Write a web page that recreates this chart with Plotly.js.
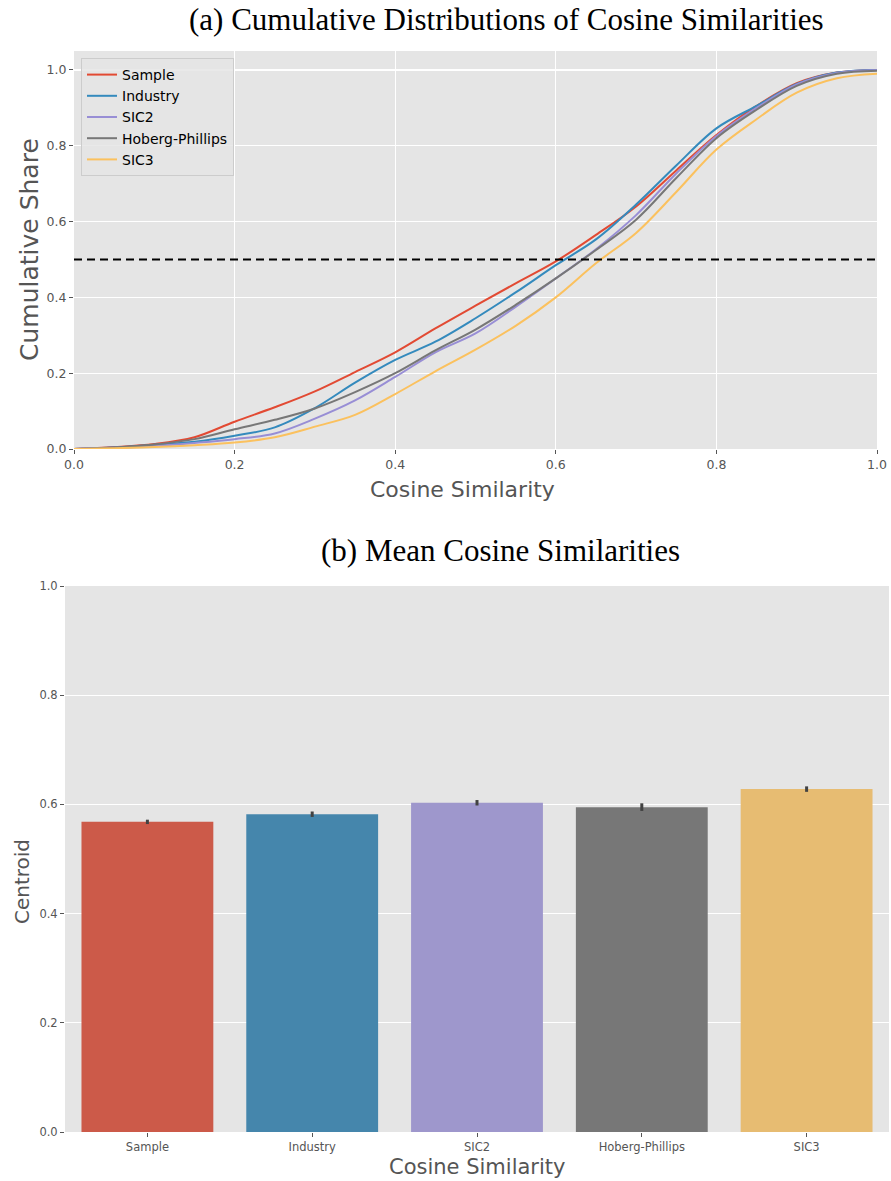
<!DOCTYPE html>
<html>
<head>
<meta charset="utf-8">
<script src="https://cdn.plot.ly/plotly-3.0.1.min.js"></script>
<style>html,body{margin:0;padding:0;background:#fff;}#chart{width:891px;height:1181px;}</style>
</head>
<body>
<div id="chart"></div>
<script>
// ---------- Data ----------
const seriesNames = ["Sample", "Industry", "SIC2", "Hoberg-Phillips", "SIC3"];
const cdfX = [0, 0.05, 0.1, 0.15, 0.2, 0.25, 0.3, 0.35, 0.4, 0.45, 0.5, 0.55, 0.6, 0.65, 0.7, 0.75, 0.8, 0.85, 0.9, 0.95, 1.0];
const cdfSample   = [0, 0.005, 0.013, 0.031, 0.072, 0.110, 0.152, 0.203, 0.255, 0.318, 0.378, 0.437, 0.495, 0.565, 0.640, 0.735, 0.828, 0.905, 0.965, 0.993, 1.0];
const cdfIndustry = [0, 0.004, 0.011, 0.019, 0.035, 0.057, 0.108, 0.175, 0.235, 0.283, 0.345, 0.413, 0.485, 0.553, 0.645, 0.748, 0.846, 0.905, 0.963, 0.993, 1.0];
const cdfSIC2     = [0, 0.003, 0.008, 0.016, 0.026, 0.041, 0.080, 0.128, 0.190, 0.255, 0.305, 0.375, 0.450, 0.527, 0.617, 0.727, 0.826, 0.900, 0.962, 0.992, 1.0];
const cdfHP       = [0, 0.004, 0.012, 0.026, 0.052, 0.077, 0.107, 0.150, 0.200, 0.260, 0.315, 0.380, 0.450, 0.525, 0.605, 0.715, 0.820, 0.895, 0.958, 0.990, 0.998];
const cdfSIC3     = [0, 0.002, 0.005, 0.010, 0.017, 0.031, 0.059, 0.090, 0.145, 0.205, 0.262, 0.325, 0.400, 0.490, 0.570, 0.678, 0.790, 0.870, 0.940, 0.978, 0.990];
const medianLevel = 0.5;

const barCategories = ["Sample", "Industry", "SIC2", "Hoberg-Phillips", "SIC3"];
const barMeans = [0.568, 0.582, 0.603, 0.595, 0.628];
const barErrors = [0.004, 0.005, 0.005, 0.007, 0.005];

const lineColors = ["#E24A33", "#348ABD", "#988ED5", "#777777", "#FBC15E"];
const barColors = ["#CC5A49", "#4586AC", "#9E97CC", "#777777", "#E7BC72"];

// ---------- Helpers ----------
const W = 891, H = 1181;
const px = x => x / W;
const py = y => 1 - y / H;

const cdfSeries = [cdfSample, cdfIndustry, cdfSIC2, cdfHP, cdfSIC3];
const traces = cdfSeries.map((ys, i) => ({
  type: "scatter", mode: "lines", x: cdfX, y: ys, name: seriesNames[i],
  line: {color: lineColors[i], width: 2, shape: "spline", smoothing: 1.0},
  xaxis: "x", yaxis: "y", showlegend: true
}));

traces.push({
  type: "bar", x: barCategories, y: barMeans,
  marker: {color: barColors, line: {width: 0}},
  error_y: {type: "data", array: barErrors, visible: true, color: "#424242", thickness: 3, width: 0},
  width: 0.8, xaxis: "x2", yaxis: "y2", showlegend: false
});

const tickFont = {family: "DejaVu Sans, sans-serif", size: 12.5, color: "#555555"};
const axisCommon = {
  showgrid: true, gridcolor: "#FFFFFF", gridwidth: 1.3, zeroline: false,
  showline: false, ticks: "outside", ticklen: 4, tickwidth: 1, tickcolor: "#555555",
  tickfont: tickFont, automargin: false, fixedrange: true
};

const layout = {
  width: W, height: H,
  margin: {l: 0, r: 0, t: 0, b: 0},
  paper_bgcolor: "#FFFFFF", plot_bgcolor: "#E5E5E5",
  showlegend: true,
  xaxis: Object.assign({}, axisCommon, {domain: [px(74), px(877)], range: [0, 1], dtick: 0.2, tick0: 0, tickformat: ".1f", anchor: "y"}),
  yaxis: Object.assign({}, axisCommon, {domain: [py(449), py(51)], range: [0, 1.05], dtick: 0.2, tick0: 0, tickformat: ".1f", anchor: "x"}),
  xaxis2: Object.assign({}, axisCommon, {domain: [px(65), px(889)], range: [-0.5, 4.5], showgrid: false, anchor: "y2", tickfont: Object.assign({}, tickFont, {size: 11.5})}),
  yaxis2: Object.assign({}, axisCommon, {domain: [py(1132), py(586)], range: [0, 1], dtick: 0.2, tick0: 0, tickformat: ".1f", anchor: "x2", tickfont: Object.assign({}, tickFont, {size: 11.5})}),
  legend: {
    x: px(81), y: py(58), xanchor: "left", yanchor: "top",
    bgcolor: "rgba(229,229,229,0.85)", bordercolor: "#CCCCCC", borderwidth: 1,
    font: {family: "DejaVu Sans, sans-serif", size: 14, color: "#000000"},
    tracegroupgap: 0
  },
  shapes: [{
    type: "line", xref: "x domain", yref: "y", x0: 0, x1: 1, y0: medianLevel, y1: medianLevel,
    line: {color: "#000000", width: 2, dash: "8px,5px"}
  }],
  annotations: [
    {text: "(a) Cumulative Distributions of Cosine Similarities", xref: "paper", yref: "paper", x: px(506), y: py(19), xanchor: "center", yanchor: "middle", showarrow: false,
     font: {family: "Liberation Serif, serif", size: 31, color: "#000000"}},
    {text: "(b) Mean Cosine Similarities", xref: "paper", yref: "paper", x: px(500), y: py(550), xanchor: "center", yanchor: "middle", showarrow: false,
     font: {family: "Liberation Serif, serif", size: 31, color: "#000000"}},
    {text: "Cosine Similarity", xref: "paper", yref: "paper", x: px(462), y: py(490), xanchor: "center", yanchor: "middle", showarrow: false,
     font: {family: "DejaVu Sans, sans-serif", size: 22, color: "#555555"}},
    {text: "Cumulative Share", xref: "paper", yref: "paper", x: px(30), y: py(250), xanchor: "center", yanchor: "middle", showarrow: false, textangle: -90,
     font: {family: "DejaVu Sans, sans-serif", size: 25, color: "#555555"}},
    {text: "Cosine Similarity", xref: "paper", yref: "paper", x: px(477), y: py(1167), xanchor: "center", yanchor: "middle", showarrow: false,
     font: {family: "DejaVu Sans, sans-serif", size: 21, color: "#555555"}},
    {text: "Centroid", xref: "paper", yref: "paper", x: px(22), y: py(882), xanchor: "center", yanchor: "middle", showarrow: false, textangle: -90,
     font: {family: "DejaVu Sans, sans-serif", size: 20, color: "#555555"}}
  ]
};

Plotly.newPlot("chart", traces, layout, {displayModeBar: false, staticPlot: true});
</script>
</body>
</html>
